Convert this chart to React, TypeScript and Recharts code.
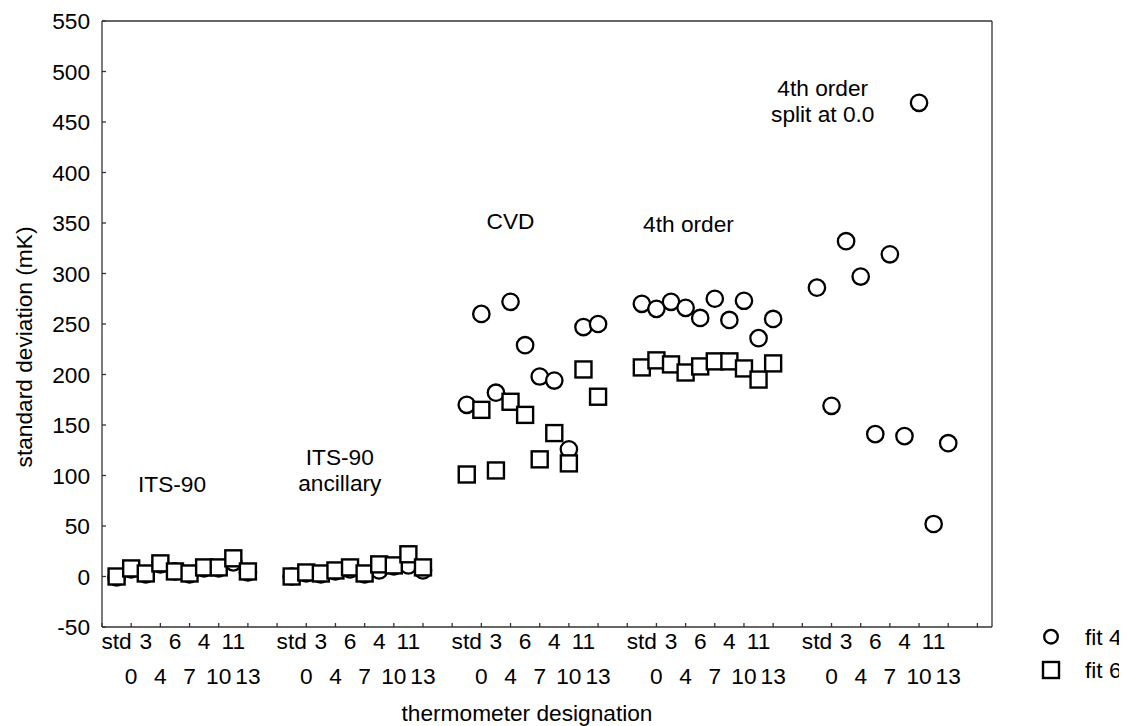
import React from 'react';
import { ScatterChart, Scatter, XAxis, YAxis, ReferenceDot, Legend } from 'recharts';

// ---------- data ----------
const groupLabels: string[][] = [
  ['ITS-90'],
  ['ITS-90', 'ancillary'],
  ['CVD'],
  ['4th order'],
  ['4th order', 'split at 0.0'],
];
const thermometers = ['std', '0', '3', '4', '6', '7', '4', '10', '11', '13'];

const fit4ITS90 = [-1, 7, 2, 12, 5, 2, 8, 8, 14, 4];
const fit4Ancillary = [0, 3, 2, 5, 7, 2, 6, 10, 11, 6];
const fit4CVD = [170, 260, 182, 272, 229, 198, 194, 126, 247, 250];
const fit4Fourth = [270, 265, 272, 266, 256, 275, 254, 273, 236, 255];
const fit4Split = [286, 169, 332, 297, 141, 319, 139, 469, 52, 132];

const fit6ITS90 = [0, 8, 3, 13, 5, 3, 9, 9, 18, 5];
const fit6Ancillary = [0, 4, 3, 6, 9, 3, 12, 11, 22, 9];
const fit6CVD = [101, 165, 105, 173, 160, 116, 142, 112, 205, 178];
const fit6Fourth = [207, 214, 210, 202, 208, 213, 213, 206, 195, 211];
const fit6Split: (number | null)[] = [null, null, null, null, null, null, null, null, null, null];

const yTicks = [-50, 0, 50, 100, 150, 200, 250, 300, 350, 400, 450, 500, 550];

// annotation anchors (data coordinates: slot position, value at first baseline)
const annotationX = [4.8, 16.3, 28.0, 40.2, 49.4];
const annotationY = [84, 110.4, 344, 341, 476];

// ---------- layout helpers ----------
const GROUP_SLOTS = 12;
const X_MAX = 61;
const FONT = '"Liberation Sans", Arial, Helvetica, sans-serif';
const FS = 22.7;
const AXIS = '#333';
const HAIR = 0.001;

type Pt = { x: number; y: number; therm: string };
const toPoints = (series: (number | null)[][]): Pt[] => {
  const out: Pt[] = [];
  series.forEach((vals, g) =>
    vals.forEach((v, i) => {
      if (v != null) out.push({ x: g * GROUP_SLOTS + i + 1, y: v, therm: thermometers[i] });
    })
  );
  return out;
};

const fit4 = toPoints([fit4ITS90, fit4Ancillary, fit4CVD, fit4Fourth, fit4Split]);
const fit6 = toPoints([fit6ITS90, fit6Ancillary, fit6CVD, fit6Fourth, fit6Split]);

const allSlots = Array.from({ length: X_MAX }, (_, k) => k);
const evenSlots = allSlots.filter((k) => k % 2 === 0);

// ---------- renderers ----------
const CircleShape = (p: any) => (
  <circle cx={p.cx} cy={p.cy} r={8.2} fill="#fff" stroke="#000" strokeWidth={2.3} />
);
const SquareShape = (p: any) => (
  <rect x={p.cx - 8} y={p.cy - 8} width={16} height={16} fill="#fff" stroke="#000" strokeWidth={2.4} />
);

const XTick = (props: any) => {
  const { x, y, payload } = props;
  const v = payload.value as number;
  const slot = v - 1;
  const g = Math.floor(slot / GROUP_SLOTS);
  const i = slot - g * GROUP_SLOTS;
  const hasLabel = v >= 1 && g < groupLabels.length && i >= 0 && i < thermometers.length;
  return (
    <g>
      {v % 2 === 0 && <line x1={x} x2={x} y1={y} y2={y - 4} stroke={AXIS} strokeWidth={1.3} />}
      {hasLabel && (
        <text
          x={x}
          y={y + (i % 2 === 0 ? 22 : 56.5)}
          textAnchor="middle"
          fontFamily={FONT}
          fontSize={FS}
          fill="#000"
        >
          {thermometers[i]}
        </text>
      )}
    </g>
  );
};

const YTick = (props: any) => {
  const { x, y, payload } = props;
  return (
    <g>
      <line x1={x} x2={x + 4} y1={y} y2={y} stroke={AXIS} strokeWidth={1.3} />
      <text x={x - 12} y={y} dy="0.36em" textAnchor="end" fontFamily={FONT} fontSize={FS} fill="#000">
        {payload.value}
      </text>
    </g>
  );
};

const XTitle = (props: any) => {
  const vb = props.viewBox || { x: 94, y: 619, width: 890, height: 99 };
  return (
    <text
      x={vb.x + vb.width / 2 - 20}
      y={vb.y + 94}
      textAnchor="middle"
      fontFamily={FONT}
      fontSize={FS}
      fill="#000"
    >
      thermometer designation
    </text>
  );
};

const YTitle = (props: any) => {
  const vb = props.viewBox || { x: 24, y: 13, width: 70, height: 606 };
  const cx = vb.x - 8;
  const cy = vb.y + vb.height / 2 + 23;
  return (
    <text
      x={cx}
      y={cy}
      transform={`rotate(-90, ${cx}, ${cy})`}
      textAnchor="middle"
      dominantBaseline="central"
      fontFamily={FONT}
      fontSize={FS}
      fill="#000"
    >
      standard deviation (mK)
    </text>
  );
};

const makeAnnotation = (lines: string[]) => (p: any) => (
  <text textAnchor="middle" fontFamily={FONT} fontSize={FS} fill="#000">
    {lines.map((ln, k) => (
      <tspan key={k} x={p.cx} y={p.cy + k * 26}>
        {ln}
      </tspan>
    ))}
  </text>
);

const LegendContent = (props: any) => {
  const payload = props.payload || [];
  return (
    <svg width={99} height={76} style={{ display: 'block' }}>
      {payload.map((entry: any, k: number) => {
        const cy = k === 0 ? 22.7 : 56;
        return (
          <g key={k}>
            {k === 0 ? (
              <circle cx={23} cy={cy} r={6.8} fill="#fff" stroke="#000" strokeWidth={2.3} />
            ) : (
              <rect x={15} y={cy - 8} width={16} height={16} fill="#fff" stroke="#000" strokeWidth={2.4} />
            )}
            <text x={57} y={cy + 8.1} fontFamily={FONT} fontSize={FS} fill="#000">
              {entry.value}
            </text>
          </g>
        );
      })}
    </svg>
  );
};

export default function App() {
  return (
    <ScatterChart width={1119} height={718} margin={{ top: 13, right: 135, bottom: 0, left: 24 }}>
      <XAxis
        type="number"
        dataKey="x"
        domain={[0, X_MAX]}
        allowDataOverflow
        ticks={allSlots}
        interval={0}
        tickSize={0}
        tickMargin={0}
        tickLine={false}
        tick={XTick}
        height={99}
        axisLine={{ stroke: AXIS, strokeWidth: 1.3 }}
        label={{ content: XTitle }}
      />
      <YAxis
        type="number"
        dataKey="y"
        domain={[-50, 550]}
        allowDataOverflow
        ticks={yTicks}
        interval={0}
        tickSize={0}
        tickMargin={0}
        tickLine={false}
        tick={YTick}
        width={70}
        axisLine={{ stroke: AXIS, strokeWidth: 1.3 }}
        label={{ content: YTitle }}
      />
      <XAxis
        xAxisId="top"
        orientation="top"
        type="number"
        dataKey="x"
        domain={[0, X_MAX]}
        allowDataOverflow
        ticks={evenSlots}
        interval={0}
        mirror
        height={HAIR}
        tick={false}
        tickSize={4}
        tickLine={{ stroke: AXIS, strokeWidth: 1.3 }}
        axisLine={{ stroke: AXIS, strokeWidth: 1.3 }}
      />
      <YAxis
        yAxisId="right"
        orientation="right"
        type="number"
        dataKey="y"
        domain={[-50, 550]}
        allowDataOverflow
        ticks={yTicks}
        interval={0}
        mirror
        width={HAIR}
        tick={false}
        tickSize={4}
        tickLine={{ stroke: AXIS, strokeWidth: 1.3 }}
        axisLine={{ stroke: AXIS, strokeWidth: 1.3 }}
      />
      <Scatter name="fit 4" data={fit4} xAxisId="top" shape={CircleShape} isAnimationActive={false} />
      <Scatter name="fit 6" data={fit6} yAxisId="right" shape={SquareShape} isAnimationActive={false} />
      {groupLabels.map((lines, g) => (
        <ReferenceDot
          key={g}
          x={annotationX[g]}
          y={annotationY[g]}
          r={0}
          ifOverflow="visible"
          shape={makeAnnotation(lines)}
        />
      ))}
      <Legend
        layout="horizontal"
        verticalAlign="middle"
        align="center"
        wrapperStyle={{ left: 1020, top: 606, width: 99, height: 76, right: 'auto', bottom: 'auto' }}
        content={LegendContent}
      />
    </ScatterChart>
  );
}
